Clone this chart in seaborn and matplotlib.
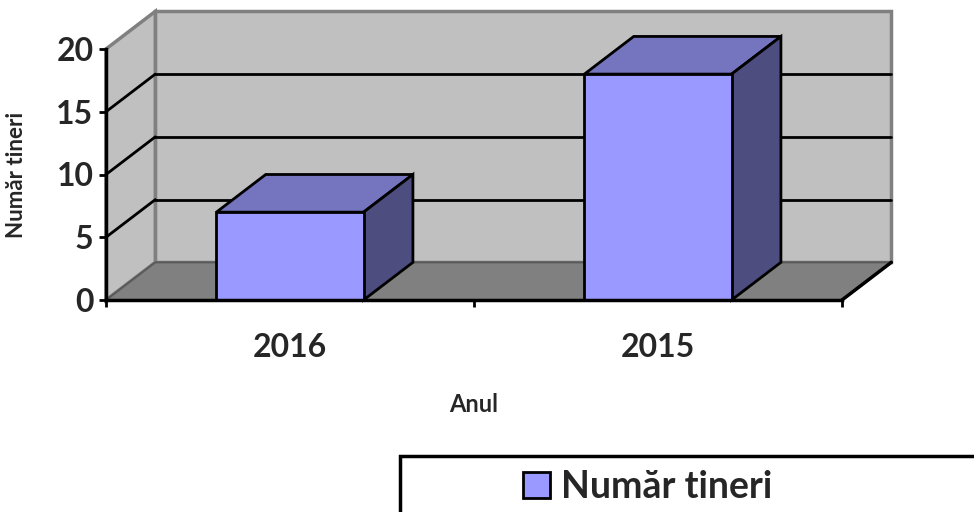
import matplotlib
matplotlib.use("Agg")
import matplotlib.pyplot as plt
from matplotlib.patches import Polygon, Rectangle, Patch
import seaborn as sns
import pandas as pd

# ── data ──────────────────────────────────────────────────────────────────────
years = ["2016", "2015"]
tineri = [7, 18]
series_name = "Număr tineri"
y_ticks = [0, 5, 10, 15, 20]

# ── style ─────────────────────────────────────────────────────────────────────
sns.set_style("white")
plt.rcParams["font.family"] = ["Lato", "DejaVu Sans"]
plt.rcParams["font.weight"] = "bold"

FRONT = "#9999FF"
TOP = "#7575BF"
SIDE = "#4D4D80"
WALL = "#C0C0C0"
FLOOR = "#808080"
EDGE = "#808080"
DX, DY = 0.134, 3.0   # 3-D depth offset in data units

df = pd.DataFrame({"Anul": years, "val": tineri})

fig = plt.figure(figsize=(9.74, 5.12), dpi=100)
ax = fig.add_axes([106 / 974, 1 - 300 / 512, 736 / 974, 251 / 512])
ax.set_facecolor("none")

xmin, xmax = -0.5, len(years) - 0.5
ymax = y_ticks[-1]

# walls and floor
back = Polygon([(xmin + DX, DY), (xmax + DX, DY), (xmax + DX, ymax + DY), (xmin + DX, ymax + DY)],
               closed=True, facecolor=WALL, edgecolor=EDGE, lw=2.5, zorder=0.1, clip_on=False)
left = Polygon([(xmin, 0), (xmin + DX, DY), (xmin + DX, ymax + DY), (xmin, ymax)],
               closed=True, facecolor=WALL, edgecolor=EDGE, lw=2.5, zorder=0.2, clip_on=False)
floor = Polygon([(xmin, 0), (xmax, 0), (xmax + DX, DY), (xmin + DX, DY)],
                closed=True, facecolor=FLOOR, edgecolor="#5a5a5a", lw=1.5, zorder=0.3, clip_on=False)
for p in (back, left, floor):
    ax.add_patch(p)
ax.plot([xmax, xmax + DX], [0, DY], color="black", lw=2.5, zorder=0.5, clip_on=False)

# gridlines on back and left walls
for t in y_ticks[1:-1]:
    ax.plot([xmin + DX, xmax + DX], [t + DY, t + DY], color="black", lw=2, zorder=0.4, clip_on=False)
    ax.plot([xmin, xmin + DX], [t, t + DY], color="black", lw=2, zorder=0.4, clip_on=False)

# front faces
sns.barplot(data=df, x="Anul", y="val", color=FRONT, width=0.4, saturation=1,
            edgecolor="black", linewidth=2, ax=ax, zorder=2)

# tops and sides from bar geometry
for bar in ax.patches:
    if not isinstance(bar, Rectangle):
        continue
    x0, w, h = bar.get_x(), bar.get_width(), bar.get_height()
    top = Polygon([(x0, h), (x0 + w, h), (x0 + w + DX, h + DY), (x0 + DX, h + DY)],
                  closed=True, facecolor=TOP, edgecolor="black", lw=2, zorder=1.5, clip_on=False)
    side = Polygon([(x0 + w, 0), (x0 + w + DX, DY), (x0 + w + DX, h + DY), (x0 + w, h)],
                   closed=True, facecolor=SIDE, edgecolor="black", lw=2, zorder=1.5, clip_on=False)
    ax.add_patch(top)
    ax.add_patch(side)

ax.set_xlim(xmin, xmax)
ax.set_ylim(0, ymax)
ax.set_yticks(y_ticks)
ax.set_xticks(range(len(years)))
ax.set_xticklabels(years)
ax.set_xticks([xmin + i for i in range(len(years) + 1)], minor=True)

for s in ("top", "right"):
    ax.spines[s].set_visible(False)
for s in ("left", "bottom"):
    ax.spines[s].set_color("black")
    ax.spines[s].set_linewidth(2.5)

ax.tick_params(axis="y", which="major", direction="out", length=5, width=2,
               color="black", left=True, labelsize=23, pad=4)
ax.tick_params(axis="x", which="major", length=0, labelsize=23, pad=24)
ax.tick_params(axis="x", which="minor", direction="out", length=5, width=2,
               color="black", bottom=True)
for lab in ax.get_xticklabels() + ax.get_yticklabels():
    lab.set_fontweight("bold")

ax.set_xlabel("Anul", fontsize=17, fontweight="bold")
ax.set_ylabel("Număr tineri", fontsize=16, fontweight="bold")
ax.xaxis.set_label_coords(0.5, -(393 - 300) / 251)
ax.yaxis.set_label_coords(-(106 - 27) / 736, 0.5)

# legend
fig.patches.append(Rectangle((400 / 974, -20 / 512), 620 / 974, (532 - 456) / 512,
                             transform=fig.transFigure, facecolor="none",
                             edgecolor="black", lw=2.5, clip_on=False))
handle = Patch(facecolor=FRONT, edgecolor="black", lw=2)
fig.legend([handle], [series_name], loc="center left",
           bbox_to_anchor=(523 / 974, 1 - 487 / 512), frameon=False,
           prop={"size": 27, "weight": "bold"}, borderpad=0, borderaxespad=0,
           handlelength=0.72, handleheight=0.72, handletextpad=0.3)

fig.savefig("out.png", dpi=100)
